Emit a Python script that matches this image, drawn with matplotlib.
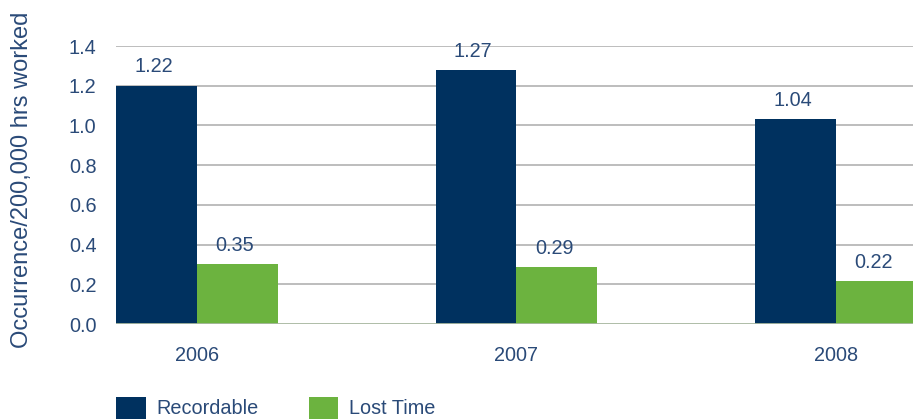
import numpy as np
import matplotlib
matplotlib.use('Agg')
import matplotlib.pyplot as plt

plt.rcParams['font.family'] = ['Liberation Sans', 'DejaVu Sans']

years = ['2006', '2007', '2008']
series = ['Recordable', 'Lost Time']
# bar heights as drawn in the picture
recordable = [1.20, 1.28, 1.03]
lost_time = [0.30, 0.285, 0.215]
# values printed above the bars
recordable_labels = ['1.22', '1.27', '1.04']
lost_time_labels = ['0.35', '0.29', '0.22']
yticks = [0.0, 0.2, 0.4, 0.6, 0.8, 1.0, 1.2, 1.4]

navy = '#00315f'
green = '#6cb33f'
text_col = '#2a4a78'
fs = 14.3

fig = plt.figure(figsize=(9.13, 4.19), dpi=100)
ax = fig.add_axes([116/913, 1 - 324/419, 797/913, 278/419])

x = np.arange(len(years))
w = 0.2535
b1 = ax.bar(x - w/2, recordable, w, color=navy, label=series[0], zorder=3)
b2 = ax.bar(x + w/2, lost_time, w, color=green, label=series[1], zorder=3)

for bars, labels in [(b1, recordable_labels), (b2, lost_time_labels)]:
    for rect, lab in zip(bars, labels):
        ax.annotate(lab, (rect.get_x() + rect.get_width()/2, rect.get_height()),
                    xytext=(-2, 13.5), textcoords='offset points',
                    ha='center', va='center', fontsize=fs, color=text_col)

ax.set_xlim(-w, 2.241)
ax.set_ylim(0, 1.4)
ax.set_yticks(yticks)
ax.set_yticklabels(['%.1f' % t for t in yticks])
ax.set_xticks(x)
ax.set_xticklabels(years)
ax.tick_params(axis='y', length=0, pad=14, labelsize=fs, labelcolor=text_col)
ax.tick_params(axis='x', length=0, pad=16, labelsize=fs, labelcolor=text_col)

for t in yticks[1:]:
    ax.axhline(t, color='#b8b8b8', lw=1.3, zorder=1)
ax.axhline(0, color='#a8b8a0', lw=1.3, zorder=4)
for s in ax.spines.values():
    s.set_visible(False)

fig.text(22/913, 1 - 180/419, 'Occurrence/200,000 hrs worked', rotation=90,
         ha='center', va='center', fontsize=17, color=text_col)

fig.legend(loc='upper left', bbox_to_anchor=(116/913, 1 - 397/419), ncol=2,
           frameon=False, fontsize=fs, labelcolor=text_col, borderpad=0,
           borderaxespad=0, handlelength=1.5, handleheight=1.3,
           handletextpad=0.55, columnspacing=2.5)

fig.savefig('out.png', dpi=100)
